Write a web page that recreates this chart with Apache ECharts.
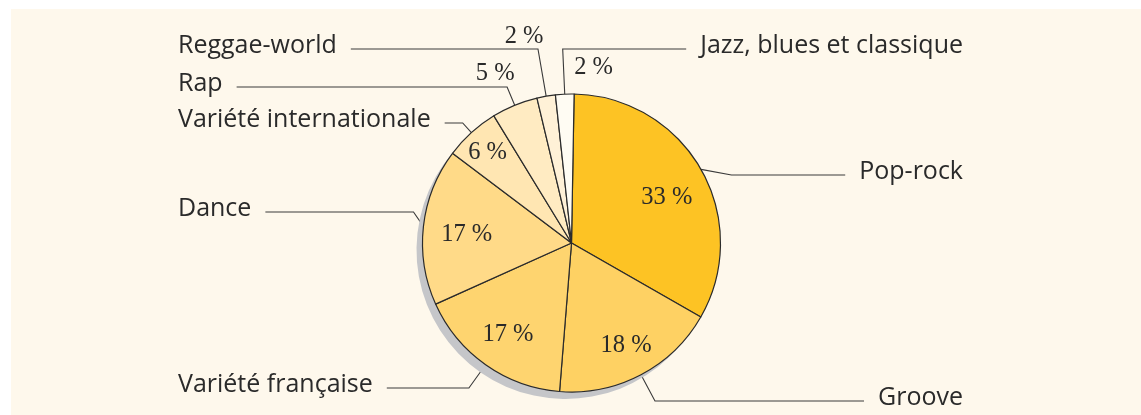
<!DOCTYPE html>
<html>
<head>
<meta charset="utf-8">
<script src="https://cdn.jsdelivr.net/npm/echarts@6/dist/echarts.min.js"></script>
<style>
  html, body { margin: 0; padding: 0; background: #fff; }
  #wrap { position: relative; width: 1141px; height: 415px; }
  #paper { position: absolute; left: 11px; top: 9px; right: 0; bottom: 0; background: #fef8ec; }
  #chart { position: absolute; left: 0; top: 0; width: 1141px; height: 415px; }
</style>
</head>
<body>
<div id="wrap">
  <div id="paper"></div>
  <div id="chart"></div>
</div>
<script>
// parts de marché par genre (%)
const categories = ['Pop-rock', 'Groove', 'Variété française', 'Dance',
  'Variété internationale', 'Rap', 'Reggae-world', 'Jazz, blues et classique']
const shares = [33, 18, 17, 17, 6, 5, 2, 2]
const sliceColors = ['#fdc324', '#fed163', '#fed46f', '#ffda88',
  '#ffe6b2', '#ffebc2', '#fff1d7', '#fffcf3']

// label placement (layout only)
const lineLength = [35, 30, 29, 10, 13, 20, 48, 45]
const lineY = [175, 401, 388, 212, 123, 87, 49, 49]
const nameSide = ['right', 'right', 'left', 'left', 'left', 'left', 'left', 'right']
const pctNudge = [[1, 8], [4, 7], [-1, 3], [3, 4], [-11, -10], [-35, -69], [-29, -100], [27, -67]]

const W = 1141
const EDGE = 178
const GAP = 14
const CENTER = [571.5, 243]
const R = 149
const START = 89

const chart = echarts.init(document.getElementById('chart'))

const slices = categories.map((name, i) => ({
  name,
  value: shares[i],
  itemStyle: { color: sliceColors[i] }
}))

const placeName = p => {
  const i = p.dataIndex
  const y = lineY[i]
  const right = nameSide[i] === 'right'
  const w = p.labelRect.width
  const x = right ? W - EDGE : EDGE
  const end = right ? x - w - GAP : x + w + GAP
  const out = { x, y: y - 3, align: right ? 'right' : 'left' }
  const pts = p.labelLinePoints
  if (pts) {
    // point on the rim from the library, elbow further out along the same ray
    const p0 = pts[0]
    const dx = p0[0] - CENTER[0]
    const dy = p0[1] - CENTER[1]
    const len = Math.sqrt(dx * dx + dy * dy)
    const ex = CENTER[0] + dx / len * (len + lineLength[i])
    out.labelLinePoints = [p0, [ex, y], [end, y]]
  }
  return out
}

const option = {
  animation: false,
  series: [
    {
      // ombre portée
      type: 'pie',
      silent: true,
      center: [CENTER[0] - 6, CENTER[1] + 7],
      radius: R,
      startAngle: START,
      label: { show: false },
      labelLine: { show: false },
      itemStyle: { color: '#c5c6c9' },
      data: [{ name: 'ombre', value: 100 }]
    },
    {
      type: 'pie',
      silent: true,
      center: CENTER,
      radius: R,
      startAngle: START,
      label: { show: false },
      labelLine: { show: false },
      itemStyle: { borderColor: '#2b2b2b', borderWidth: 1.2 },
      data: slices
    },
    {
      // pourcentages
      type: 'pie',
      silent: true,
      center: CENTER,
      radius: [62, R],
      startAngle: START,
      itemStyle: { color: 'rgba(0,0,0,0)' },
      label: {
        position: 'inside',
        formatter: '{c} %',
        fontFamily: 'Liberation Serif',
        fontSize: 24.5,
        color: '#2a2a2a'
      },
      labelLine: { show: false },
      labelLayout: p => ({ dx: pctNudge[p.dataIndex][0], dy: pctNudge[p.dataIndex][1] }),
      data: shares.map((v, i) => ({ name: categories[i], value: v }))
    },
    {
      // noms des genres
      type: 'pie',
      silent: true,
      avoidLabelOverlap: false,
      center: CENTER,
      radius: R,
      startAngle: START,
      itemStyle: { color: 'rgba(0,0,0,0)' },
      label: {
        position: 'outside',
        formatter: '{b}',
        fontFamily: 'Open Sans',
        fontSize: 25,
        color: '#2a2a2a'
      },
      labelLine: {
        show: true,
        lineStyle: { color: '#3a3a3a', width: 1.1 }
      },
      labelLayout: placeName,
      data: categories.map((name, i) => ({ name, value: shares[i] }))
    }
  ]
}

chart.setOption(option)
</script>
</body>
</html>
